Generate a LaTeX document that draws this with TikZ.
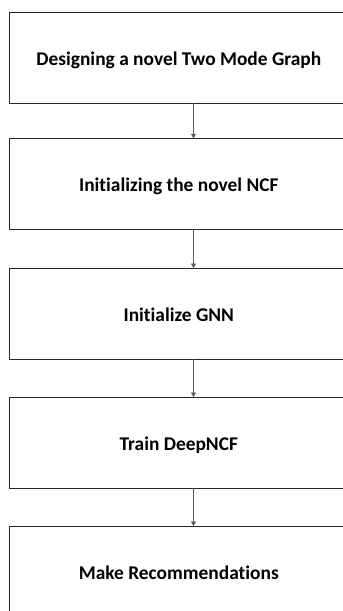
\documentclass[tikz,border=0pt]{standalone}
\usepackage{fontspec}
\setmainfont[Ligatures={NoCommon}]{Carlito}
\usetikzlibrary{arrows.meta}
\begin{document}
\begin{tikzpicture}[x=1pt,y=1pt,
  stepbox/.style={draw=black!85, line width=1pt, minimum width=338pt, minimum height=91pt, inner sep=0pt, font=\fontsize{19.4}{22}\selectfont\bfseries, anchor=north west, text height=14pt, text depth=0pt},
  conn/.style={draw=black!65, line width=0.6pt, -{Triangle[length=4.5pt,width=5pt]}}]
\useasboundingbox (0,0) rectangle (343,-611);
\clip (0,0) rectangle (343,-611);
\node[stepbox] (b1) at (9.3,-12.3) {Designing a novel Two Mode Graph};
\node[stepbox] (b2) at (9.3,-138.3) {Initializing the novel NCF};
\node[stepbox] (b3) at (9.3,-268) {Initialize GNN};
\node[stepbox] (b4) at (9.3,-397) {Train DeepNCF};
\node[stepbox] (b5) at (9.3,-526) {Make Recommendations};
\coordinate (a1) at (193.5,-103);
\draw[conn] (a1) -- (a1 |- b2.north);
\coordinate (a2) at (193.5,-229);
\draw[conn] (a2) -- (a2 |- b3.north);
\coordinate (a3) at (193.5,-359);
\draw[conn] (a3) -- (a3 |- b4.north);
\coordinate (a4) at (193.5,-488);
\draw[conn] (a4) -- (a4 |- b5.north);
\end{tikzpicture}
\end{document}
